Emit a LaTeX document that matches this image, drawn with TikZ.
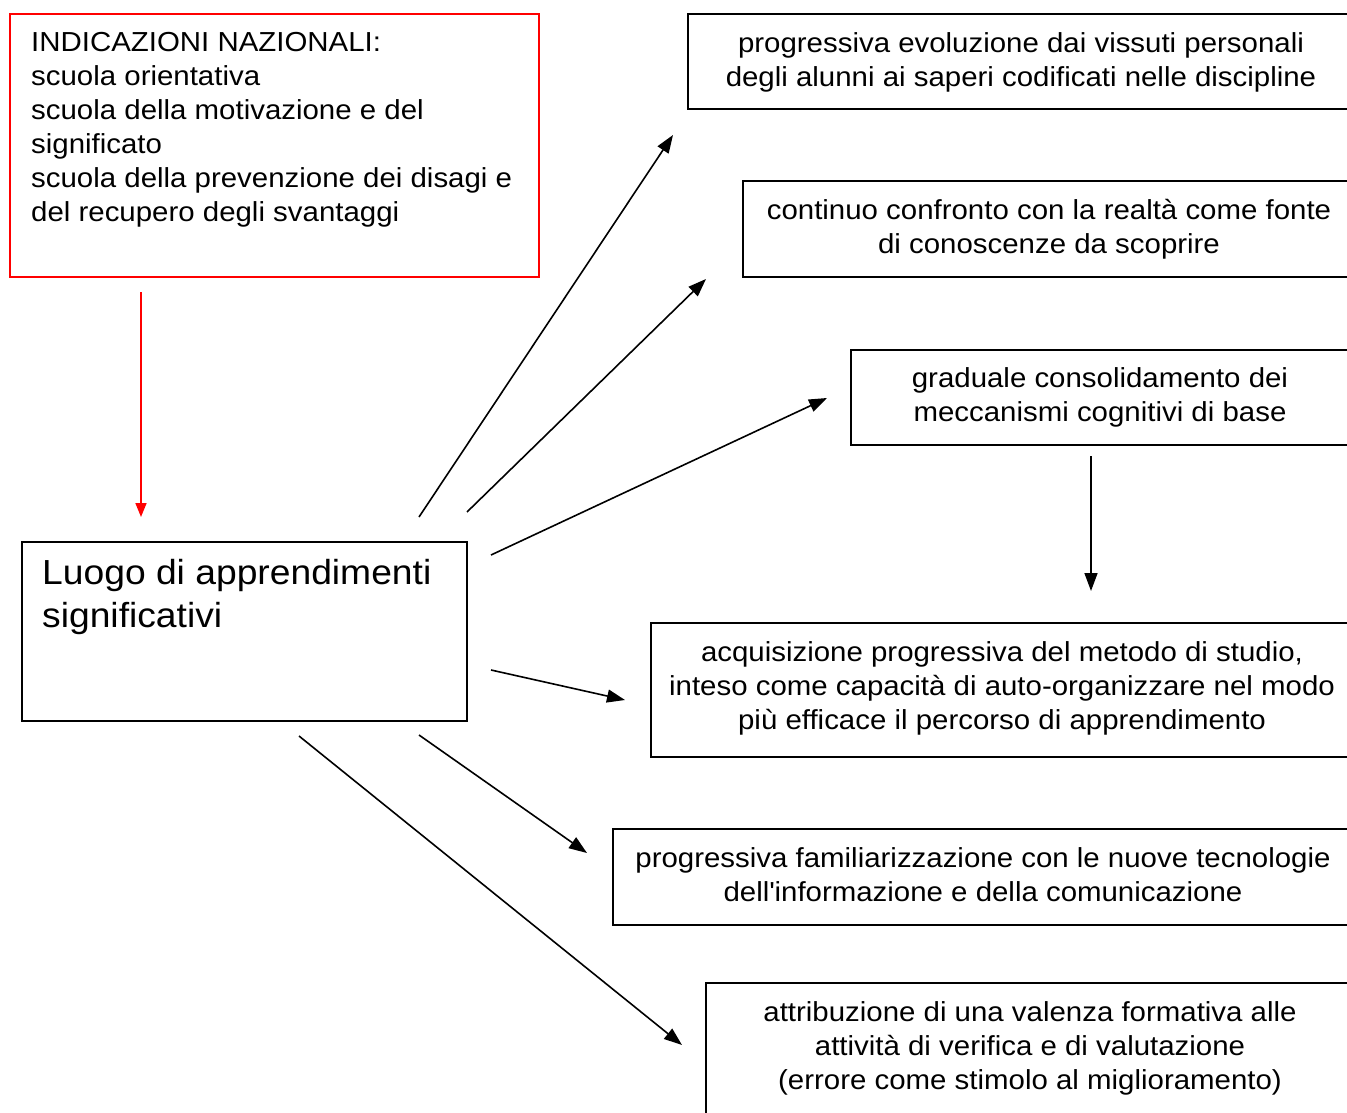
\documentclass[tikz,border=0pt]{standalone}
\usepackage{fontspec}
\setmainfont{Liberation Sans}[FakeStretch=1.07]
\usetikzlibrary{arrows.meta}
\begin{document}
\begin{tikzpicture}[x=1pt,y=-1pt,
  boxline/.style={draw=black,line width=2pt},
  redline/.style={draw=red,line width=2pt},
  txt/.style={inner sep=0pt,font=\fontsize{27.5}{34}\selectfont},
  bigtxt/.style={inner sep=0pt,font=\fontsize{34.8}{43}\selectfont},
  arr/.style={line width=1.6pt,-{Triangle[length=18pt,width=13pt]}},
  redarr/.style={draw=red,line width=1.6pt,-{Triangle[length=14pt,width=11pt]}}]
\useasboundingbox[fill=white] (0,0) rectangle (1347,1113);
\clip (0,0) rectangle (1347,1113);
% red box
\draw[redline] (10,14) rectangle (539,277);
\node[txt,anchor=north west,align=left] (ind) at (31,32) {INDICAZIONI NAZIONALI:\\scuola orientativa\\scuola della motivazione e del\\significato\\scuola della prevenzione dei disagi e\\del recupero degli svantaggi};
% central box
\draw[boxline] (22,542) rectangle (467,721);
\node[bigtxt,anchor=north west,align=left] (luogo) at (42,559) {Luogo di apprendimenti\\significativi};
% right boxes (cut at the right edge)
\draw[boxline] (1400,14) -- (688,14) -- (688,109) -- (1400,109);
\node[txt,anchor=north,align=center] (t1) at (1021,32) {progressiva evoluzione dai vissuti personali\\degli alunni ai saperi codificati nelle discipline};
\draw[boxline] (1400,181) -- (743,181) -- (743,277) -- (1400,277);
\node[txt,anchor=north,align=center] (t2) at (1049,199) {continuo confronto con la realtà come fonte\\di conoscenze da scoprire};
\draw[boxline] (1400,350) -- (851,350) -- (851,445) -- (1400,445);
\node[txt,anchor=north,align=center] (t3) at (1100,367) {graduale consolidamento dei\\meccanismi cognitivi di base};
\draw[boxline] (1400,623) -- (651,623) -- (651,757) -- (1400,757);
\node[txt,anchor=north,align=center] (t4) at (1002,641) {acquisizione progressiva del metodo di studio,\\inteso come capacità di auto-organizzare nel modo\\più efficace il percorso di apprendimento};
\draw[boxline] (1400,829) -- (613,829) -- (613,925) -- (1400,925);
\node[txt,anchor=north,align=center] (t5) at (983,847) {progressiva familiarizzazione con le nuove tecnologie\\dell\textquotesingle informazione e della comunicazione};
\draw[boxline] (1400,983) -- (706,983) -- (706,1150);
\node[txt,anchor=north,align=center] (t6) at (1030,1001) {attribuzione di una valenza formativa alle\\attività di verifica e di valutazione\\(errore come stimolo al miglioramento)};
% connector end points
\coordinate (r0) at (141,292);   \coordinate (r1) at (141,517);
\coordinate (a1s) at (419,517);  \coordinate (a1e) at (673,135);
\coordinate (a2s) at (467,512);  \coordinate (a2e) at (706,279);
\coordinate (a3s) at (491,555);  \coordinate (a3e) at (827,398);
\coordinate (a4s) at (1091,456); \coordinate (a4e) at (1091,591);
\coordinate (a5s) at (491,670);  \coordinate (a5e) at (625,700);
\coordinate (a6s) at (419,735);  \coordinate (a6e) at (587,853);
\coordinate (a7s) at (299,736);  \coordinate (a7e) at (682,1045);
\draw[redarr] (r0) -- (r1);
\draw[arr] (a1s) -- (a1e);
\draw[arr] (a2s) -- (a2e);
\draw[arr] (a3s) -- (a3e);
\draw[arr] (a4s) -- (a4e);
\draw[arr] (a5s) -- (a5e);
\draw[arr] (a6s) -- (a6e);
\draw[arr] (a7s) -- (a7e);
\end{tikzpicture}
\end{document}
